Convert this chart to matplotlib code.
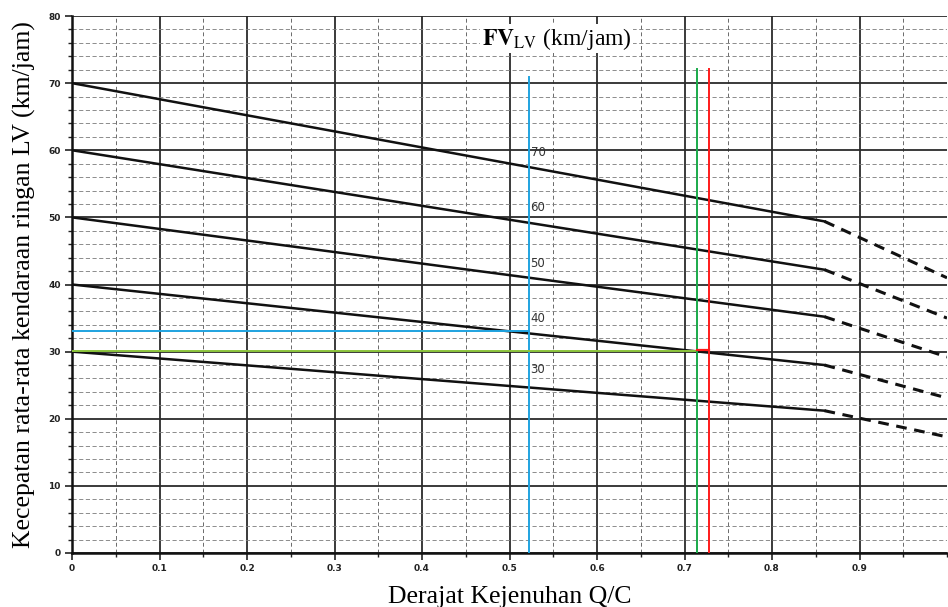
import matplotlib.pyplot as plt
import numpy as np

plt.rcParams["mathtext.fontset"] = "stix"

# free-flow speed curves (FV_LV)
fv_labels = ["70", "60", "50", "40", "30"]
v_start = [70, 60, 50, 40, 30]
qc_break = 0.86
v_break = [49.4, 42.2, 35.2, 28.0, 21.2]
qc_end = 1.0
v_end = [41.0, 35.0, 29.2, 23.1, 17.3]

# label positions for the curves
lab_x = 0.524
lab_y = [59.6, 51.4, 43.2, 35.0, 27.3]

# reading lines drawn on top
blue_x, blue_top, blue_y = 0.522, 70.9, 33.0
green_x, green_top, green_y = 0.714, 72.1, 30.1
red_x, red_top, red_y = 0.728, 72.1, 30.2

x_ticks = [0, 0.1, 0.2, 0.3, 0.4, 0.5, 0.6, 0.7, 0.8, 0.9]
x_ticklabels = ["0", "0.1", "0.2", "0.3", "0.4", "0.5", "0.6", "0.7", "0.8", "0.9"]
y_ticks = [0, 10, 20, 30, 40, 50, 60, 70, 80]

fig = plt.figure(figsize=(9.48, 6.07), dpi=100)
ax = fig.add_axes([72 / 948, 54 / 607, 875 / 948, 537 / 607])

########### Grid ###########
ax.set_xlim(0, 1.0)
ax.set_ylim(0, 80)
ax.set_xticks(x_ticks)
ax.set_xticklabels(x_ticklabels)
ax.set_xticks(np.arange(0, 1.0001, 0.05), minor=True)
ax.set_yticks(y_ticks)
ax.set_yticks(np.arange(0, 80.1, 2), minor=True)

ax.grid(which="major", color="#2b2b2b", linewidth=1.3)
ax.grid(which="minor", axis="x", color="#6a6a6a", linewidth=0.7, linestyle=(0, (4, 3)))
ax.grid(which="minor", axis="y", color="#7a7a7a", linewidth=0.6, linestyle=(0, (5, 3)))
ax.set_axisbelow(True)

for s in ["top", "right"]:
    ax.spines[s].set_visible(False)
for s in ["left", "bottom"]:
    ax.spines[s].set_linewidth(1.8)
    ax.spines[s].set_color("#111111")

ax.tick_params(which="both", direction="out", color="#222222")
ax.tick_params(which="major", length=5, width=1.2, labelsize=6.5, labelcolor="#222222", pad=3)
ax.tick_params(which="minor", length=3, width=1.0)
for t in ax.get_xticklabels() + ax.get_yticklabels():
    t.set_fontweight("bold")

########### Curves ###########
for i in range(len(v_start)):
    ax.plot([0, qc_break], [v_start[i], v_break[i]], color="#111111", linewidth=1.8, zorder=3)
    ax.plot([qc_break, qc_end], [v_break[i], v_end[i]], color="#111111", linewidth=2.2,
            linestyle=(0, (3.5, 2.5)), zorder=3)
    ax.text(lab_x, lab_y[i], fv_labels[i], fontsize=8.5, color="#333333",
            ha="left", va="center", zorder=4)

########### Reading lines ###########
ax.plot([blue_x, blue_x], [0, blue_top], color="#1fa3e0", linewidth=1.4, zorder=5)
ax.plot([0, blue_x], [blue_y, blue_y], color="#1fa3e0", linewidth=1.4, zorder=5)
ax.plot([0, green_x], [green_y, green_y], color="#8cc43c", linewidth=1.4, zorder=5)
ax.plot([green_x, green_x], [0, green_top], color="#1aaa4a", linewidth=1.4, zorder=5)
ax.plot([red_x, red_x], [0, red_top], color="#ff1a1a", linewidth=1.4, zorder=5)
ax.plot([green_x, red_x], [red_y, red_y], color="#ff1a1a", linewidth=1.6, zorder=5)

########### Text ###########
ax.text(0.468, 76.6, r"$\mathbf{FV}_{\mathrm{LV}}$ (km/jam)", fontsize=17,
        family="Liberation Serif", ha="left", va="center", zorder=6,
        bbox=dict(facecolor="white", edgecolor="none", pad=1))

ax.set_xlabel("Derajat Kejenuhan Q/C", fontsize=18.5, family="Liberation Serif", labelpad=9)
ax.set_ylabel("Kecepatan rata-rata kendaraan ringan LV (km/jam)", fontsize=18.5,
              family="Liberation Serif", labelpad=9)

plt.savefig("out.png", dpi=100)
